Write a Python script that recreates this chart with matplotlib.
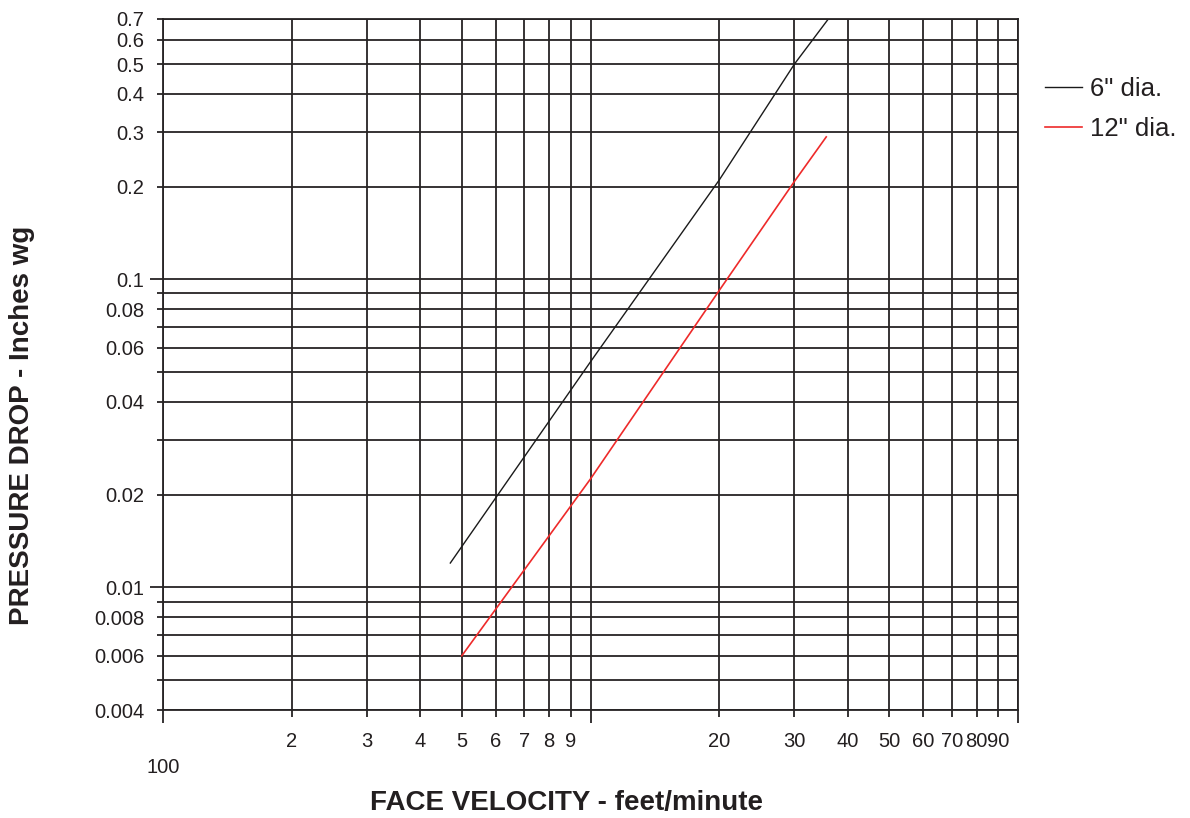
import numpy as np
import matplotlib.pyplot as plt
from matplotlib.ticker import FixedLocator, FixedFormatter

# values (x in the printed scale units)
velocity_6 = [4.7, 10, 20, 30, 36]
pressure_6 = [0.012, 0.054, 0.21, 0.5, 0.7]
velocity_12 = [5.0, 10, 20, 30, 35.6]
pressure_12 = [0.006, 0.0225, 0.092, 0.208, 0.29]

x_major = [1, 10, 100]
x_major_labels = ['100', '', '']
x_minor = [2, 3, 4, 5, 6, 7, 8, 9, 20, 30, 40, 50, 60, 70, 80, 90]
x_minor_labels = ['2', '3', '4', '5', '6', '7', '8', '9',
                  '20', '30', '40', '50', '60', '70', '80', '90']

y_major = [0.01, 0.1]
y_major_labels = ['0.01', '0.1']
y_minor = [0.004, 0.005, 0.006, 0.007, 0.008, 0.009,
           0.02, 0.03, 0.04, 0.05, 0.06, 0.07, 0.08, 0.09,
           0.2, 0.3, 0.4, 0.5, 0.6, 0.7]
y_minor_labels = ['0.004', '', '0.006', '', '0.008', '',
                  '0.02', '', '0.04', '', '0.06', '', '0.08', '',
                  '0.2', '0.3', '0.4', '0.5', '0.6', '0.7']

plt.rcParams['font.family'] = ['Liberation Sans', 'DejaVu Sans']
grid_c = '#262324'
lw = 1.3

fig = plt.figure(figsize=(11.9, 8.18), dpi=100)
W, H = 1190, 818
ax = fig.add_axes([163 / W, 1 - 710 / H, (1018 - 163) / W, (710 - 19) / H])

ax.plot(velocity_6, pressure_6, color='#1a1a1a', lw=1.0, label='6" dia.')
ax.plot(velocity_12, pressure_12, color='#ee2a2a', lw=1.2, label='12" dia.')

ax.set_xscale('log')
ax.set_yscale('log')
ax.set_xlim(1, 100)
ax.set_ylim(0.004, 0.7)

ax.xaxis.set_major_locator(FixedLocator(x_major))
ax.xaxis.set_major_formatter(FixedFormatter(x_major_labels))
ax.xaxis.set_minor_locator(FixedLocator(x_minor))
ax.xaxis.set_minor_formatter(FixedFormatter(x_minor_labels))
ax.yaxis.set_major_locator(FixedLocator(y_major))
ax.yaxis.set_major_formatter(FixedFormatter(y_major_labels))
ax.yaxis.set_minor_locator(FixedLocator(y_minor))
ax.yaxis.set_minor_formatter(FixedFormatter(y_minor_labels))

ax.grid(True, which='both', color=grid_c, lw=lw)
ax.set_axisbelow(True)
for s in ax.spines.values():
    s.set_color(grid_c)
    s.set_linewidth(lw)

px = 0.72
ax.tick_params(axis='both', which='both', color=grid_c, width=lw,
               labelsize=14.5, labelcolor='#231f20')
ax.tick_params(axis='y', which='major', length=13 * px, pad=6 * px)
ax.tick_params(axis='y', which='minor', length=6 * px, pad=13 * px)
ax.tick_params(axis='x', which='major', length=13 * px, pad=35 * px)
ax.tick_params(axis='x', which='minor', length=7 * px, pad=15 * px)

fig.text(567 / W, 1 - 803 / H, 'FACE VELOCITY - feet/minute', ha='center', va='center',
         fontsize=20, fontweight='bold', color='#231f20')
fig.text(22 / W, 1 - 425 / H, 'PRESSURE DROP - Inches wg', ha='center', va='center',
         rotation=90, fontsize=20, fontweight='bold', color='#231f20')

ax.legend(loc='upper left', bbox_to_anchor=(1045 / W, 1 - 77 / H), bbox_transform=fig.transFigure,
          frameon=False, fontsize=18.5, handlelength=1.45, handletextpad=0.3,
          labelspacing=0.62, borderpad=0, borderaxespad=0, labelcolor='#231f20')

fig.savefig('out.png', dpi=100)
